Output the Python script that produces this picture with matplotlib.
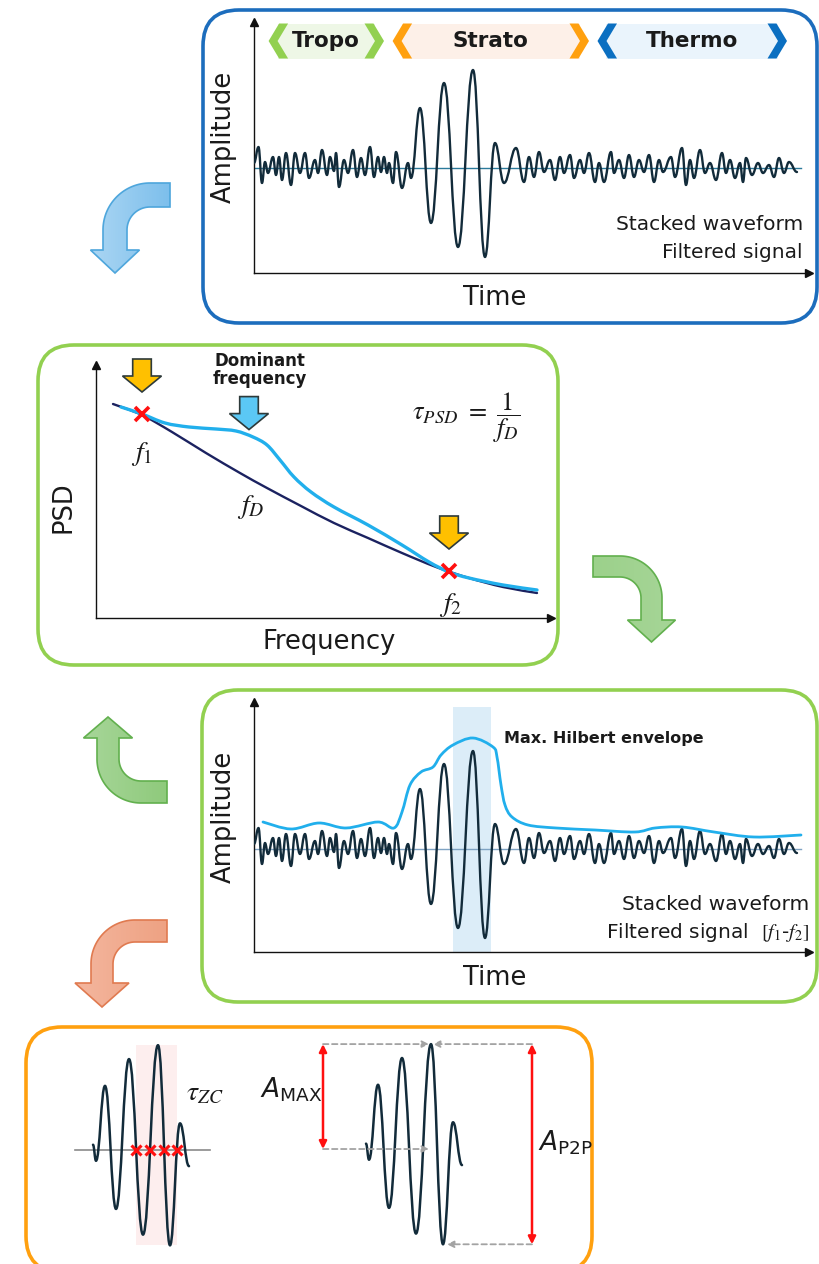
import numpy as np
import matplotlib.pyplot as plt
from matplotlib.patches import FancyBboxPatch, Polygon, PathPatch, Rectangle
from matplotlib.path import Path
from matplotlib.colors import LinearSegmentedColormap

W, H = 820, 1264

# stacked waveform, read as alternating extrema (time, amplitude)
wave_t = [0, 4.5, 8, 11, 14, 19, 22, 25, 28, 32, 37, 41, 46, 51, 55, 61, 64, 68, 73, 76,
          80, 82, 85, 90, 94, 99, 103, 107, 111, 116, 120, 124, 127, 130, 133, 135, 139, 142,
          148, 154, 157, 166, 177, 190, 204, 219, 231, 241, 250, 262, 270, 275, 280, 285,
          290, 296, 301, 306, 310, 316, 320, 326, 330, 335, 341, 345, 350, 357, 360, 365,
          370, 375, 380, 385, 390, 395, 400, 405, 409, 417, 421, 428, 432, 436, 440, 446,
          451, 456, 462, 468, 472, 476, 481, 486, 489, 492, 498, 504, 509, 515, 520, 525,
          530, 535, 543]
wave_a = [5, 21, -15, 6, -5, 11, -7, 11, -12, 15, -17, 15, -5, 15, -10, 8, -5, 18, -7, 11,
          -3, 15, -19, 8, -5, 18, -9, 10, -7, 21, -9, 11, -4, 11, -5, 5, -15, 16,
          -20, 5, -10, 60, -55, 85, -79, 98, -89, 25, -15, 20, -14, 11, -9, 16,
          -4, 8, -12, 11, -5, 13, -10, 8, -5, 15, -14, 5, -14, 16, -5, 8,
          -10, 13, -9, 8, -4, 13, -14, 8, -4, 11, -9, 20, -17, 8, -10, 18,
          -5, 5, -12, 15, -5, 8, -10, 5, -14, 10, -7, 5, -5, 3, -9, 10,
          -5, 6, -4]

# infrasound arrival and its zero crossings
burst_span = (154, 250)
zero_cross_t = [197, 211, 225, 238]

# Hilbert envelope of the filtered signal
env_t = [9, 37, 65, 92, 124, 140, 148, 156, 167, 179, 187, 199, 219, 239, 243, 247,
         251, 258, 274, 302, 341, 381, 401, 428, 460, 500, 547]
env_a = [27, 20, 26, 21, 27, 21, 37, 64, 77, 82, 94, 104, 111, 102, 92, 64,
         44, 32, 24, 21, 19, 17, 21, 22, 17, 12, 14]
hilbert_win = (199, 237)

# power spectral density, raw and filtered
psd_f = [17, 46, 76, 110, 144, 171, 205, 238, 272, 306, 340, 373, 407, 441]
psd_raw = [214, 203, 186, 165, 145, 130, 112, 95, 80, 65, 51, 40, 31, 25]
psd_filt_f = [25, 46, 69, 93, 120, 140, 157, 171, 184, 198, 215, 238, 272, 306, 333,
              353, 373, 407, 441]
psd_filt = [211, 204, 195, 191, 189, 187, 181, 173, 158, 141, 126, 111, 93, 73, 56,
            46, 40, 33, 28]
corner_f = [46, 353]
corner_psd = [204, 47]
dominant_f = 153

layers = ["Tropo", "Strato", "Thermo"]

INK = "#1a1a1a"
WAVE = "#122b3a"
LIGHT = "#21afec"

fig = plt.figure(figsize=(W / 100, H / 100), dpi=100)
bg = fig.add_axes([0, 0, 1, 1])
bg.axis("off")


def px_axes(left, top, right, bottom):
    ax = fig.add_axes([left / W, 1 - bottom / H, (right - left) / W, (bottom - top) / H])
    ax.patch.set_alpha(0)
    return ax


def arrow_axes(ax):
    ax.spines[["top", "right"]].set_visible(False)
    for s in ["left", "bottom"]:
        ax.spines[s].set_linewidth(1.0)
        ax.spines[s].set_color("#111111")
    ax.set_xticks([])
    ax.set_yticks([])
    ax.plot(1, 0, ">", color="#111111", ms=6, transform=ax.transAxes, clip_on=False)
    ax.plot(0, 1, "^", color="#111111", ms=6, transform=ax.transAxes, clip_on=False)


def extrema_path(t, a, k=0.42):
    # cubic segments with flat tangents at every extremum
    verts = [(t[0], a[0])]
    codes = [Path.MOVETO]
    for i in range(len(t) - 1):
        dt = t[i + 1] - t[i]
        verts += [(t[i] + k * dt, a[i]), (t[i + 1] - k * dt, a[i + 1]), (t[i + 1], a[i + 1])]
        codes += [Path.CURVE4] * 3
    return Path(verts, codes)


def spline_path(x, y):
    # Catmull-Rom curve through the given points
    p = np.column_stack([x, y]).astype(float)
    ext = np.vstack([p[0], p, p[-1]])
    verts = [tuple(p[0])]
    codes = [Path.MOVETO]
    for i in range(len(p) - 1):
        p0, p1, p2, p3 = ext[i], ext[i + 1], ext[i + 2], ext[i + 3]
        verts += [tuple(p1 + (p2 - p0) / 6), tuple(p2 - (p3 - p1) / 6), tuple(p2)]
        codes += [Path.CURVE4] * 3
    return Path(verts, codes)


def draw_path(ax, path, color, lw, z=3):
    ax.add_patch(PathPatch(path, fc="none", ec=color, lw=lw,
                           joinstyle="round", capstyle="round", zorder=z))


def panel_box(x0, y0, x1, y1, color):
    bg.add_patch(FancyBboxPatch((x0, y0), x1 - x0, y1 - y0,
                                boxstyle="round,pad=0,rounding_size=36",
                                fc="white", ec=color, lw=2.6, zorder=1))


def elbow_arrow(cx, cy, R, r, sx, sy, arm_end, head_base, tip, head_hw, c0, c1, ec):
    phi = np.linspace(0, np.pi / 2, 40)
    outer = [(cx - sx * R * np.sin(p), cy - sy * R * np.cos(p)) for p in phi]
    inner = [(cx - sx * r * np.sin(p), cy - sy * r * np.cos(p)) for p in phi[::-1]]
    xm = cx - sx * (R + r) / 2
    pts = ([(arm_end, cy - sy * R)] + outer +
           [(cx - sx * R, head_base), (xm - sx * head_hw, head_base), (xm, tip),
            (xm + sx * head_hw, head_base), (cx - sx * r, head_base)] +
           inner + [(arm_end, cy - sy * r)])
    poly = Polygon(pts, closed=True, fc="none", ec=ec, lw=1.2, zorder=3)
    bg.add_patch(poly)
    xs = [q[0] for q in pts]
    ys = [q[1] for q in pts]
    cmap = LinearSegmentedColormap.from_list("fade", [c0, c1])
    im = bg.imshow(np.linspace(0, 1, 100)[None, :], cmap=cmap, aspect="auto",
                   extent=(min(xs), max(xs), max(ys), min(ys)), zorder=2,
                   interpolation="bilinear")
    im.set_clip_path(poly)


def block_arrow(ax, x, tip, fc):
    sw, hw, hh, sh = 18.6, 39, 16, 17
    pts = [(x - sw / 2, tip + hh + sh), (x + sw / 2, tip + hh + sh), (x + sw / 2, tip + hh),
           (x + hw / 2, tip + hh), (x, tip), (x - hw / 2, tip + hh), (x - sw / 2, tip + hh)]
    ax.add_patch(Polygon(pts, closed=True, fc=fc, ec="#2d3a3a", lw=1.2,
                         clip_on=False, zorder=5))


def chevron(x_tip, s, yt, yb, color, d=10.5, w=9):
    ym = (yt + yb) / 2
    pts = [(x_tip, ym), (x_tip + s * d, yt), (x_tip + s * (d + w), yt), (x_tip + s * w, ym),
           (x_tip + s * (d + w), yb), (x_tip + s * d, yb)]
    bg.add_patch(Polygon(pts, closed=True, fc=color, ec="none", zorder=3))


# panel frames
panel_box(203, 10, 817, 323, "#1c6dbd")
panel_box(38, 345, 558, 665, "#92d050")
panel_box(202, 690, 817, 1002, "#92d050")
panel_box(26, 1027, 592, 1272, "#ffa00f")

# curved arrows between panels
elbow_arrow(150, 230, 47, 23, 1, 1, 170, 250, 273, 24.5, "#abd6f3", "#7dbfec", "#4ea6dc")
elbow_arrow(620, 598, 42, 21, -1, 1, 593, 620, 642, 24, "#9cd18b", "#a6d597", "#62b04e")
elbow_arrow(141, 759, 44, 22, 1, -1, 167, 738, 717, 24.5, "#a7d699", "#8fca7c", "#62b04e")
elbow_arrow(135, 964, 44, 22, 1, 1, 167, 983, 1007, 27, "#f4b69e", "#eea283", "#e07a50")

# atmospheric layer tabs
tab_spans = [(268.6, 384), (392.6, 589), (597.5, 787)]
tab_edge = ["#92d050", "#ffa00f", "#0b6fc1"]
tab_fill = ["#eef7e6", "#fdf0e8", "#eaf4fc"]
for name, (x0, x1), ec, fc in zip(layers, tab_spans, tab_edge, tab_fill):
    bg.add_patch(Rectangle((x0 + 9, 23.5), x1 - x0 - 18, 35, fc=fc, ec="none", zorder=2))
    chevron(x0, 1, 23.5, 58.5, ec)
    chevron(x1, -1, 23.5, 58.5, ec)
    bg.text((x0 + x1) / 2, 41, name, ha="center", va="center", fontsize=15.5,
            fontweight="bold", color=INK, zorder=4)

# panel 1: stacked waveform
ax1 = px_axes(254, 22, 809, 273)
ax1.set_xlim(0, 555)
ax1.set_ylim(-105, 146)
arrow_axes(ax1)
ax1.plot([1.5, 547], [0, 0], color="#2b7a9b", lw=1.0, zorder=2)
draw_path(ax1, extrema_path(wave_t, wave_a), WAVE, 1.7)
bg.text(224, 137, "Amplitude", rotation=90, ha="center", va="center", fontsize=18.5, color=INK)
bg.text(495, 298, "Time", ha="center", va="center", fontsize=18.5, color=INK)
bg.text(803, 225, "Stacked waveform", ha="right", va="center", fontsize=14.5, color=INK)
bg.text(803, 252, "Filtered signal", ha="right", va="center", fontsize=14.5, color=INK)

# panel 2: power spectral density
ax2 = px_axes(96, 365, 551, 618)
ax2.set_xlim(0, 455)
ax2.set_ylim(0, 253)
arrow_axes(ax2)
draw_path(ax2, spline_path(psd_f, psd_raw), "#1b2260", 1.7)
draw_path(ax2, spline_path(psd_filt_f, psd_filt), LIGHT, 2.4)
ax2.plot(corner_f, corner_psd, "x", color="#ff1010", ms=10, mew=2.6, zorder=6)
for f, p in zip(corner_f, corner_psd):
    block_arrow(ax2, f, p + 22, "#ffc000")
peak_psd = np.interp(dominant_f, psd_filt_f, psd_filt)
block_arrow(ax2, dominant_f, peak_psd + 6, "#5bc8f5")
ax2.text(dominant_f + 11, 248, "Dominant\nfrequency", ha="center", va="center",
         fontsize=12, fontweight="bold", color=INK, linespacing=1.05)
ax2.text(corner_f[0], corner_psd[0] - 40, r"$f_1$", ha="center", va="center", fontsize=20,
         math_fontfamily="stix", color=INK)
ax2.text(corner_f[1] + 2, corner_psd[1] - 34, r"$f_2$", ha="center", va="center", fontsize=20,
         math_fontfamily="stix", color=INK)
ax2.text(dominant_f + 2, 111, r"$f_D$", ha="center", va="center", fontsize=20,
         math_fontfamily="stix", color=INK)
ax2.text(370, 200, r"$\tau_{PSD}\ =\ \dfrac{1}{f_D}$", ha="center", va="center",
         fontsize=19, math_fontfamily="stix", color=INK)
bg.text(64, 507, "PSD", rotation=90, ha="center", va="center", fontsize=18.5, color=INK)
bg.text(329, 642, "Frequency", ha="center", va="center", fontsize=18.5, color=INK)

# panel 3: Hilbert envelope
ax3 = px_axes(254, 702, 809, 952)
ax3.set_xlim(0, 555)
ax3.set_ylim(-103, 147)
arrow_axes(ax3)
ax3.axvspan(*hilbert_win, ymin=0, ymax=0.98, color="#dcedf8", lw=0, zorder=1)
ax3.plot([1.5, 547], [0, 0], color="#7fa3c3", lw=1.0, zorder=2)
draw_path(ax3, extrema_path(wave_t, wave_a), WAVE, 1.7)
draw_path(ax3, spline_path(env_t, env_a), LIGHT, 2.0, z=4)
ax3.text(250, 111, "Max. Hilbert envelope", ha="left", va="center", fontsize=11.5,
         fontweight="bold", color=INK)
bg.text(224, 817, "Amplitude", rotation=90, ha="center", va="center", fontsize=18.5, color=INK)
bg.text(495, 978, "Time", ha="center", va="center", fontsize=18.5, color=INK)
bg.text(809, 905, "Stacked waveform", ha="right", va="center", fontsize=14.5, color=INK)
bg.text(809, 933, r"Filtered signal  $[f_1$-$f_2]$", ha="right", va="center", fontsize=14.5,
        math_fontfamily="stix", color=INK)

# panel 4: zero crossings and amplitudes of the arrival
wt = np.array(wave_t, dtype=float)
wa = np.array(wave_a, dtype=float)
sel = (wt >= burst_span[0]) & (wt <= burst_span[1])
bt, ba = wt[sel], wa[sel]

ax4 = px_axes(60, 1035, 220, 1255)
ax4.set_xlim(121, 281)
ax4.set_ylim(-98, 107.5)
ax4.axis("off")
ax4.add_patch(Rectangle((zero_cross_t[0], ba.min()), zero_cross_t[-1] - zero_cross_t[0],
                        ba.max() - ba.min(), fc="#fdeeee", ec="none", zorder=1))
ax4.plot([136, 271], [0, 0], color="#8a8a8a", lw=1.2, zorder=2)
draw_path(ax4, extrema_path(bt, ba), WAVE, 1.8)
ax4.plot(zero_cross_t, np.zeros(len(zero_cross_t)), "x", color="#ff1010", ms=7, mew=2.2,
         zorder=5)
ax4.text(266, 54, r"$\tau_{ZC}$", ha="center", va="center", fontsize=20,
         math_fontfamily="stix", color=INK)

ax5 = px_axes(300, 1035, 560, 1255)
ax5.set_xlim(88, 348)
ax5.set_ylim(-99, 106.5)
ax5.axis("off")
draw_path(ax5, extrema_path(bt, ba), WAVE, 1.8)
t_max = bt[np.argmax(ba)]
t_min = bt[np.argmin(ba)]
a_max, a_min = ba.max(), ba.min()
x_amax, x_p2p = 111, 320
dash = dict(arrowstyle="-|>", color="#a3a3a3", lw=1.3, ls=(0, (3, 2)), mutation_scale=10,
            shrinkA=0, shrinkB=0)
ax5.annotate("", xy=(t_max - 2, a_max), xytext=(x_amax, a_max), arrowprops=dash)
ax5.annotate("", xy=(t_max - 2, 0), xytext=(x_amax, 0), arrowprops=dash)
ax5.annotate("", xy=(t_max + 2, a_max), xytext=(x_p2p, a_max), arrowprops=dash)
ax5.annotate("", xy=(t_min + 4, a_min), xytext=(x_p2p, a_min), arrowprops=dash)
red = dict(arrowstyle="<|-|>", color="#ff1010", lw=1.8, mutation_scale=11,
           shrinkA=0, shrinkB=0)
ax5.annotate("", xy=(x_amax, a_max), xytext=(x_amax, 0), arrowprops=red)
ax5.annotate("", xy=(x_p2p, a_max), xytext=(x_p2p, a_min), arrowprops=red)
ax5.text(x_amax - 1, 55, r"$\mathit{A}_{\mathrm{MAX}}$", ha="right", va="center",
         fontsize=19, math_fontfamily="dejavusans", color=INK)
ax5.text(x_p2p + 6, 6, r"$\mathit{A}_{\mathrm{P2P}}$", ha="left", va="center",
         fontsize=19, math_fontfamily="dejavusans", color=INK)

bg.set_xlim(0, W)
bg.set_ylim(H, 0)
fig.savefig("out.png", dpi=100)
